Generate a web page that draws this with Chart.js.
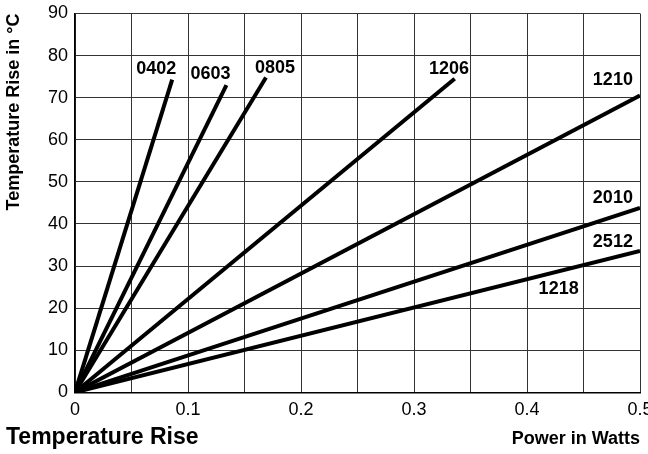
<!DOCTYPE html>
<html>
<head>
<meta charset="utf-8">
<script src="https://cdn.jsdelivr.net/npm/chart.js@4/dist/chart.umd.min.js"></script>
<style>
  html, body { margin: 0; padding: 0; background: #fff; overflow: hidden; }
  #wrap { width: 648px; height: 454px; }
</style>
</head>
<body>
<div id="wrap"><canvas id="riseChart" width="648" height="454"></canvas></div>
<script>
// chip sizes, one line each (2512 and 1218 share the lowest line)
const sizes = ['0402', '0603', '0805', '1206', '1210', '2010', '2512'];
const endPower = [0.086, 0.134, 0.169, 0.336, 0.5, 0.5, 0.5];
const endRise = [74.3, 73, 74.8, 74.5, 70.5, 43.8, 33.6];

// size tags written on the chart, anchored in data units
const tagText = ['0402', '0603', '0805', '1206', '1210', '2010', '2512', '1218'];
const tagPower = [0.072, 0.12, 0.177, 0.331, 0.476, 0.476, 0.476, 0.428];
const tagRise = [76.7, 75.7, 77.1, 76.9, 74.3, 46.2, 35.7, 24.5];

const powerTicks = [0, 0.1, 0.2, 0.3, 0.4, 0.5];
const FONT = "'Liberation Sans', Arial, Helvetica, sans-serif";

const datasets = sizes.map(function(name, i) {
    return {
        label: name,
        data: [{ x: 0, y: 0 }, { x: endPower[i], y: endRise[i] }],
        borderColor: '#000',
        borderWidth: 4,
        pointRadius: 0,
        showLine: true,
        fill: false
    };
});

// writes the size tags next to their lines
const sizeTags = {
    id: 'sizeTags',
    afterDatasetsDraw: function(chart) {
        const ctx = chart.ctx;
        const xs = chart.scales.x, ys = chart.scales.y;
        ctx.save();
        ctx.fillStyle = '#000';
        ctx.font = 'bold 18px ' + FONT;
        ctx.textAlign = 'center';
        ctx.textBaseline = 'middle';
        tagText.forEach(function(t, i) {
            ctx.fillText(t, xs.getPixelForValue(tagPower[i]), ys.getPixelForValue(tagRise[i]));
        });
        ctx.restore();
    }
};

new Chart(document.getElementById('riseChart'), {
    type: 'scatter',
    data: { datasets: datasets },
    options: {
        responsive: false,
        animation: false,
        layout: { padding: { top: 13.5, left: 6, right: 0, bottom: 0 } },
        plugins: {
            legend: { display: false },
            tooltip: { enabled: false },
            title: {
                display: true,
                text: 'Temperature Rise',
                position: 'bottom',
                align: 'start',
                color: '#000',
                font: { family: FONT, size: 23, weight: 'bold' },
                padding: { top: -21, bottom: 2.6 }
            }
        },
        scales: {
            x: {
                type: 'linear',
                min: 0,
                max: 0.5,
                border: { color: '#000', width: 1.5 },
                grid: { color: '#333', lineWidth: 1, drawTicks: false },
                ticks: {
                    stepSize: 0.05,
                    autoSkip: false,
                    maxRotation: 0,
                    padding: 7,
                    color: '#000',
                    font: { family: FONT, size: 18 },
                    callback: function(v) {
                        const hit = powerTicks.find(function(p) { return Math.abs(p - v) < 1e-6; });
                        if (hit === undefined) return '';
                        return hit === 0 ? '0' : hit.toFixed(1);
                    }
                },
                title: {
                    display: true,
                    text: 'Power in Watts',
                    align: 'end',
                    color: '#000',
                    font: { family: FONT, size: 18, weight: 'bold' },
                    padding: { top: 0, bottom: -4.8 }
                },
                afterFit: function(axis) {
                    axis.height = 52.5;
                    axis.paddingRight = 8;
                }
            },
            y: {
                type: 'linear',
                min: 0,
                max: 90,
                border: { color: '#000', width: 1.5 },
                grid: { color: '#333', lineWidth: 1, drawTicks: false },
                ticks: {
                    stepSize: 10,
                    padding: 7,
                    color: '#000',
                    font: { family: FONT, size: 18 }
                },
                title: {
                    display: true,
                    text: 'Temperature Rise in °C',
                    align: 'end',
                    color: '#000',
                    font: { family: FONT, size: 18, weight: 'bold' },
                    padding: { top: -3, bottom: 0 }
                },
                afterFit: function(axis) {
                    axis.width = 69;
                    axis.paddingTop = 0;
                }
            }
        }
    },
    plugins: [sizeTags]
});
</script>
</body>
</html>
